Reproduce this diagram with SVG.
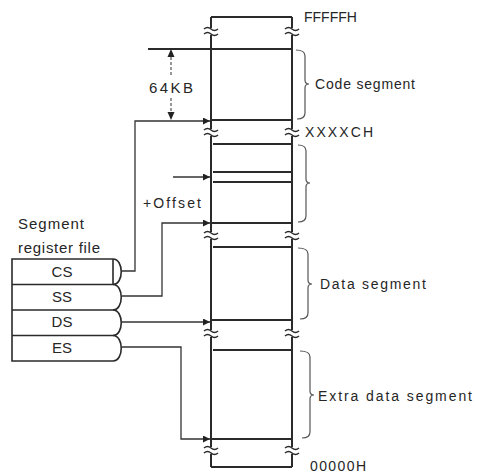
<svg xmlns="http://www.w3.org/2000/svg" width="477" height="473" viewBox="0 0 477 473">
<style>
  .t{font-family:"Liberation Sans",Arial,sans-serif;font-size:14px;fill:#262626}
  .col{stroke:#2a2a2a;stroke-width:2;fill:none}
  .hl{stroke:#2a2a2a;stroke-width:2;fill:none}
  .reg{stroke:#2a2a2a;stroke-width:1.6;fill:none}
  .con{stroke:#333;stroke-width:1.3;fill:none}
  .brace{stroke:#555;stroke-width:1.2;fill:none}
  .brk{stroke:#2a2a2a;stroke-width:1.5;fill:none}
  .dim{stroke:#444;stroke-width:1.1;fill:none;stroke-dasharray:3 2}
</style>
<defs>
  <marker id="arr" markerUnits="userSpaceOnUse" markerWidth="8" markerHeight="8" refX="7" refY="3.5" orient="auto">
    <path d="M0,0 L7,3.5 L0,7 z" fill="#222"/>
  </marker>
  <g id="brk">
    <path class="brk" d="M-7,-2 q3.5,-3 7,0 t7,0 M-7,3 q3.5,-3 7,0 t7,0"/>
  </g>
</defs>
<rect width="477" height="473" fill="#fff"/>

<g id="memory-map">
  <path class="col" d="M211,17 V28 M211,35 V129 M211,136 V232 M211,239 V330 M211,337 V447 M211,454 V467"/>
  <path class="col" d="M292,17 V28 M292,35 V129 M292,136 V232 M292,239 V330 M292,337 V447 M292,454 V467"/>
  <path class="hl" d="M211,17 H292 M148,49 H292 M211,120 H292 M213,144 H292 M213,172 H292 M213,182 H292 M211,223 H292 M213,247 H292 M211,320 H292 M213,350 H292 M211,439 H292 M211,467 H292"/>
  <use href="#brk" x="211" y="31"/><use href="#brk" x="292" y="31"/>
  <use href="#brk" x="211" y="132"/><use href="#brk" x="292" y="132"/>
  <use href="#brk" x="211" y="235"/><use href="#brk" x="292" y="235"/>
  <use href="#brk" x="211" y="333"/><use href="#brk" x="292" y="333"/>
  <use href="#brk" x="211" y="450"/><use href="#brk" x="292" y="450"/>
  <text class="t" x="304" y="22">FFFFFH</text>
  <text class="t" x="305" y="137" textLength="68" lengthAdjust="spacing">XXXXCH</text>
  <text class="t" x="310" y="471" textLength="56" lengthAdjust="spacing">00000H</text>
</g>

<g id="code-segment">
  <path class="brace" d="M296,50 Q305,50 305,56 V80 Q305,84 309,84 Q305,84 305,88 V113 Q305,119 297,119"/>
  <text class="t" x="315" y="89" textLength="100" lengthAdjust="spacing">Code segment</text>
</g>
<g id="stack-segment">
  <path class="brace" d="M298,145 Q306,145 306,151 V179 Q306,183 310,183 Q306,183 306,187 V216 Q306,222 298,222"/>
</g>
<g id="data-segment">
  <path class="brace" d="M298,248 Q308,248 308,254 V280 Q308,284 312,284 Q308,284 308,288 V313 Q308,319 300,319"/>
  <text class="t" x="320" y="289" textLength="106" lengthAdjust="spacing">Data segment</text>
</g>
<g id="extra-segment">
  <path class="brace" d="M300,351 Q310,351 310,357 V391 Q310,395 314,395 Q310,395 310,399 V432 Q310,438 302,438"/>
  <text class="t" x="318" y="401" textLength="154" lengthAdjust="spacing">Extra data segment</text>
</g>

<g id="size-64kb">
  <path class="dim" d="M171,52 V77 M171,98 V118"/>
  <path d="M171,49 L167.5,57 L174.5,57 z M171,120 L167.5,112 L174.5,112 z" fill="#222"/>
  <text class="t" x="171" y="93" text-anchor="middle" style="font-size:15px" textLength="44" lengthAdjust="spacing">64KB</text>
</g>

<g id="offset">
  <text class="t" x="143" y="208" textLength="58" lengthAdjust="spacing">+Offset</text>
</g>

<g id="register-file">
  <text class="t" x="18" y="229" style="font-size:15px" textLength="66" lengthAdjust="spacing">Segment</text>
  <text class="t" x="18" y="253" style="font-size:15px" textLength="82" lengthAdjust="spacing">register file</text>
  <path class="reg" d="M113,259 H12 V361 H113 M113,259 V284.5"/>
  <g id="reg-cs">
    <path class="reg" d="M12,284.5 H113 M113,259 C124,259 124,284.5 113,284.5"/>
    <text class="t" x="62" y="277" text-anchor="middle" style="font-size:15px">CS</text>
  </g>
  <g id="reg-ss">
    <path class="reg" d="M12,310 H113 M113,284.5 C124,284.5 124,310 113,310"/>
    <text class="t" x="62" y="302" text-anchor="middle" style="font-size:15px">SS</text>
  </g>
  <g id="reg-ds">
    <path class="reg" d="M12,335.5 H113 M113,310 C124,310 124,335.5 113,335.5"/>
    <text class="t" x="62" y="327" text-anchor="middle" style="font-size:15px">DS</text>
  </g>
  <g id="reg-es">
    <path class="reg" d="M113,335.5 C124,335.5 124,361 113,361"/>
    <text class="t" x="62" y="353" text-anchor="middle" style="font-size:15px">ES</text>
  </g>
</g>

<g id="connectors">
  <path class="con" d="M122,271 H135 V121 H210" marker-end="url(#arr)"/>
  <path class="con" d="M122,296 H162 V223 H210" marker-end="url(#arr)"/>
  <path class="con" d="M122,322 H210" marker-end="url(#arr)"/>
  <path class="con" d="M122,347 H181 V439 H210" marker-end="url(#arr)"/>
  <path class="con" d="M173,177 H210" marker-end="url(#arr)"/>
</g>
</svg>
